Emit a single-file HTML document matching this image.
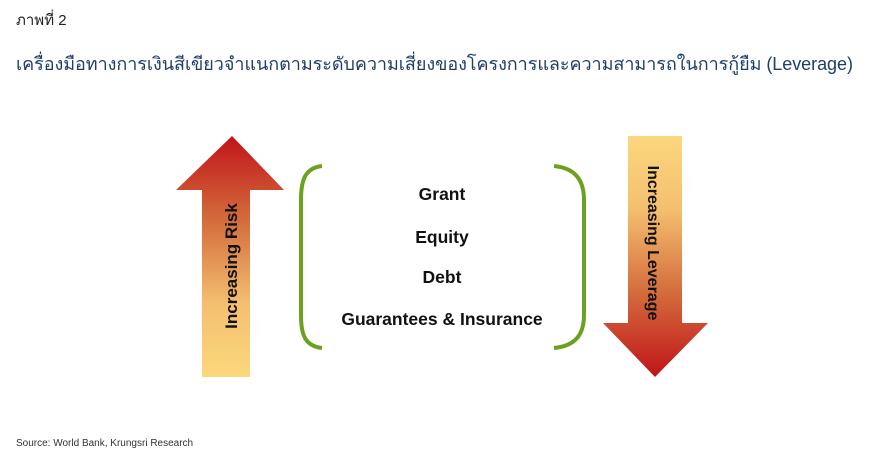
<!DOCTYPE html>
<html><head><meta charset="utf-8"><style>
body{margin:0;width:870px;height:476px;background:#fff;position:relative;overflow:hidden;font-family:"Liberation Sans","Noto Sans CJK SC",sans-serif}
.t{position:absolute;white-space:nowrap}
</style></head><body>
<div class="t" style="left:16px;top:8px;font-size:15px;color:#222">ภาพที่ 2</div>
<div class="t" style="left:16px;top:49px;font-size:18px;color:#1f3d6b;letter-spacing:-0.05px">เครื่องมือทางการเงินสีเขียวจำแนกตามระดับความเสี่ยงของโครงการและความสามารถในการกู้ยืม (Leverage)</div>
<svg width="870" height="476" style="position:absolute;left:0;top:0">
<defs>
<linearGradient id="up" x1="0" y1="1" x2="0" y2="0"><stop offset="0" stop-color="#fcd77d"/><stop offset="0.3" stop-color="#f4c070"/><stop offset="0.65" stop-color="#d46c3c"/><stop offset="1" stop-color="#c0141a"/></linearGradient>
<linearGradient id="dn" x1="0" y1="0" x2="0" y2="1"><stop offset="0" stop-color="#fcd77d"/><stop offset="0.3" stop-color="#f4c070"/><stop offset="0.65" stop-color="#d46c3c"/><stop offset="1" stop-color="#c0141a"/></linearGradient>
</defs>
<polygon points="232,136 284,190 250,190 250,377 202,377 202,190 176,190" fill="url(#up)"/>
<polygon points="628,136 682,136 682,323 708,323 655,377 603,323 628,323" fill="url(#dn)"/>
<path d="M322,166 C305,168 301,180 301,200 L301,315 C301,335 305,346 322,348" fill="none" stroke="#6aa121" stroke-width="4"/>
<path d="M554,166 C575,168 584,180 584,200 L584,315 C584,335 575,346 554,348" fill="none" stroke="#6aa121" stroke-width="4"/>
<text x="237" y="266" transform="rotate(-90 237 266)" text-anchor="middle" font-family="Liberation Sans,sans-serif" font-weight="bold" font-size="17" fill="#111">Increasing Risk</text>
<text x="648" y="243" transform="rotate(90 648 243)" text-anchor="middle" font-family="Liberation Sans,sans-serif" font-weight="bold" font-size="16" fill="#111">Increasing Leverage</text>
<g font-family="Liberation Sans,sans-serif" font-weight="bold" font-size="17.5" fill="#111" text-anchor="middle">
<text x="442" y="200">Grant</text>
<text x="442" y="243">Equity</text>
<text x="442" y="283">Debt</text>
<text x="442" y="325">Guarantees &amp; Insurance</text>
</g>
</svg>
<div class="t" style="left:16px;top:438px;font-size:10px;color:#333">Source: World Bank, Krungsri Research</div>
</body></html>
